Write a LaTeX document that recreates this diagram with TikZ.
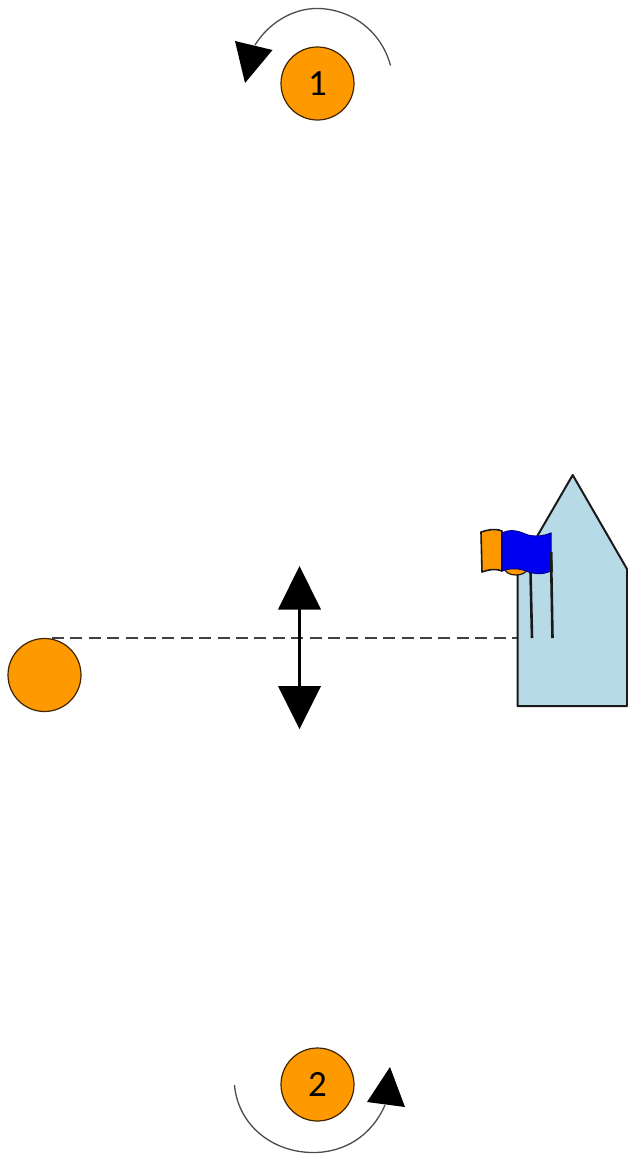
\documentclass[tikz,border=0pt]{standalone}
\usepackage{fontspec}
\setmainfont{Carlito}
\definecolor{orangeF}{HTML}{FF9900}
\definecolor{houseF}{HTML}{B7DBE6}
\definecolor{flagB}{HTML}{0000F0}
\definecolor{outl}{HTML}{1A1A1A}
\begin{document}
\begin{tikzpicture}[x=1pt,y=-1pt,
  ball/.style={circle,draw=black!75!orangeF,line width=1.2pt,fill=orangeF,minimum size=73pt,inner sep=0pt,font=\fontsize{37}{37}\selectfont},
  tip/.style={fill=black,draw=none},
  turn/.style={line width=1.3pt,draw=black!70},
  edge/.style={draw=outl,line width=2pt,line join=round},
  pole/.style={draw=outl,line width=2.6pt}]
\useasboundingbox[fill=white] (0,0) rectangle (628,1154);
% house
\path[fill=houseF] (517.5,706) -- (627,706) -- (627,569) -- (572.7,475) -- (535,540) -- (517.5,570) -- cycle;
\draw[edge] (517.5,570) -- (517.5,706) -- (627,706) -- (627,569) -- (572.7,475) -- (535,540);
% dashed sight line
\node[ball] (left) at (44.5,675) {};
\coordinate (sightA) at (52,638);
\coordinate (sightB) at (517,638);
\draw[draw=black!75,line width=1.6pt,dash pattern=on 12pt off 6.4pt] (sightA) -- (sightB);
% flag
\draw[pole] (530.5,572) -- (532,638);
\draw[pole] (551,552) -- (552.5,638);
\draw[fill=orangeF,draw=outl,line width=1.2pt] (516,569) ellipse (11pt and 6pt);
\draw[edge,fill=orangeF,line width=1.6pt] (502,531) .. controls (494,528) and (488,530) .. (481,532) -- (482,572) .. controls (488,570) and (494,568) .. (502,571) -- cycle;
\draw[fill=flagB,draw=flagB!60!black,line width=1pt] (502,533) .. controls (512,528) and (520,532) .. (528,535) .. controls (536,537) and (544,536) .. (551,533) -- (551,571) .. controls (542,575) and (534,574) .. (526,571) .. controls (518,568) and (510,568) .. (502,571) -- cycle;
\draw[pole] (551,552) -- (551.5,572);
% balls
\node[ball] (one) at (317.5,83.5) {1};
\node[ball] (two) at (317.5,1084.5) {2};
% rotation arrows
\coordinate (oneS) at (390.5,65.5);
\coordinate (oneE) at (255,45);
\draw[turn] (oneS) .. controls (381,30) and (350,9) .. (318,8.5) .. controls (292,8) and (268,24) .. (oneE);
\path[tip] (235,41) -- (272.5,50) -- (245,83) -- cycle;
\coordinate (twoS) at (234.5,1085);
\coordinate (twoE) at (385,1105);
\draw[turn] (twoS) .. controls (238,1125) and (272,1152) .. (312,1152.5) .. controls (345,1153) and (372,1135) .. (twoE);
\path[tip] (390,1067) -- (405,1107) -- (367,1102) -- cycle;
% double arrow
\coordinate (upT) at (299.5,607);
\coordinate (dnT) at (299.5,688);
\draw[black,line width=3.2pt] (upT) -- (dnT);
\path[tip] (299.5,566) -- (321,609.5) -- (278,609.5) -- cycle;
\path[tip] (299.5,729) -- (321,686) -- (278,686) -- cycle;
\end{tikzpicture}
\end{document}
